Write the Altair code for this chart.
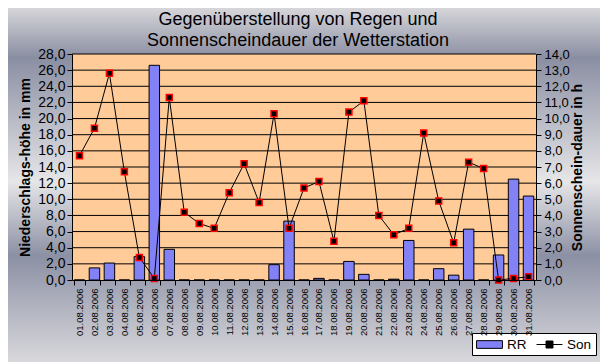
import altair as alt
import pandas as pd

# ---- data ----
dates = ["01.08.2006", "02.08.2006", "03.08.2006", "04.08.2006", "05.08.2006",
         "06.08.2006", "07.08.2006", "08.08.2006", "09.08.2006", "10.08.2006",
         "11.08.2006", "12.08.2006", "13.08.2006", "14.08.2006", "15.08.2006",
         "16.08.2006", "17.08.2006", "18.08.2006", "19.08.2006", "20.08.2006",
         "21.08.2006", "22.08.2006", "23.08.2006", "24.08.2006", "25.08.2006",
         "26.08.2006", "27.08.2006", "28.08.2006", "29.08.2006", "30.08.2006",
         "31.08.2006"]
rr = [0.0, 1.5, 2.1, 0.0, 2.9, 26.6, 3.8, 0.0, 0.0, 0.0, 0.0, 0.0, 0.0, 1.9, 7.3,
      0.0, 0.2, 0.0, 2.3, 0.7, 0.0, 0.1, 4.9, 0.0, 1.4, 0.6, 6.3, 0.0, 3.1, 12.5, 10.4]
son = [7.7, 9.4, 12.8, 6.7, 1.4, 0.1, 11.3, 4.2, 3.5, 3.2, 5.4, 7.2, 4.8, 10.3, 3.2,
       5.7, 6.1, 2.4, 10.4, 11.1, 4.0, 2.8, 3.2, 9.1, 4.9, 2.3, 7.3, 6.9, 0.0, 0.1, 0.2]
left_ticks = [0, 2, 4, 6, 8, 10, 12, 14, 16, 18, 20, 22, 24, 26, 28]
right_ticks = [0, 1, 2, 3, 4, 5, 6, 7, 8, 9, 10, 11, 12, 13, 14]
grid_values = [2, 4, 6, 8, 10, 12, 14, 16, 18, 20, 22, 24, 26, 28]
series_names = ["RR", "Son"]
title_lines = ["Gegenüberstellung von Regen und", "Sonnenscheindauer der Wetterstation"]
left_title = "Niederschlags-höhe in mm"
right_title = "Sonnenschein-dauer in h"

# ---- styling ----
W, H = 464, 226
FONT = "Liberation Sans"
BAR = "#8282f6"
PEACH = "#ffcc99"

df = pd.DataFrame({"date": dates, "rr": rr, "son": son})
df["series"] = series_names[0]
grid_df = pd.DataFrame({"g": grid_values})
one = pd.DataFrame({"k": [0]})

fmt = "replace(format(datum.value, '.1f'), '.', ',')"

left_scale = alt.Scale(domain=[0, 28], nice=False, zero=True)
right_scale = alt.Scale(domain=[0, 14], nice=False, zero=True)

left_axis = alt.Axis(values=left_ticks, labelExpr=fmt, title=left_title, orient="left",
                     titleAngle=270, titleFontWeight="bold", titleFontSize=14,
                     titleFont=FONT, labelFont=FONT, labelFontSize=14, labelColor="black",
                     titleColor="black", tickSize=5, tickColor="black", domainColor="black",
                     labelPadding=2, titlePadding=5, grid=False, zindex=1)
right_axis = alt.Axis(values=right_ticks, labelExpr=fmt, title=right_title, orient="right",
                      titleAngle=270, titleBaseline="top", titleFontWeight="bold",
                      titleFontSize=14, titleFont=FONT, labelFont=FONT, labelFontSize=13,
                      labelColor="black", titleColor="black", tickSize=5, tickColor="black",
                      domainColor="black", labelPadding=3, titlePadding=1, grid=False,
                      zindex=1)
x_axis = alt.Axis(title=None, labelAngle=270, labelFont=FONT, labelFontSize=9.5,
                  labelColor="black", tickBand="extent", tickSize=5, tickColor="black",
                  domainColor="black", labelPadding=3, grid=False, zindex=1)
x_scale = alt.Scale(type="band", paddingInner=0.3, paddingOuter=0.15)
x_enc = alt.X("date:N", sort=dates, scale=x_scale, axis=x_axis)

gradient = alt.LinearGradient(
    gradient="linear", x1=0, y1=0, x2=0, y2=1,
    stops=[alt.GradientStop(offset=0.0, color="#d6d6da"),
           alt.GradientStop(offset=0.14, color="#8a8ea2"),
           alt.GradientStop(offset=0.49, color="#e6e6e8"),
           alt.GradientStop(offset=0.70, color="#8c90a4"),
           alt.GradientStop(offset=1.0, color="#d8d8dc")])

bg = alt.Chart(one).mark_rect(color=gradient).encode(
    x=alt.value(-64), x2=alt.value(528), y=alt.value(-46), y2=alt.value(308))
plot_bg = alt.Chart(one).mark_rect(color=PEACH).encode(
    x=alt.value(0), x2=alt.value(W), y=alt.value(0), y2=alt.value(H))

grid = alt.Chart(grid_df).mark_rule(color="black", strokeWidth=1).encode(
    y=alt.Y("g:Q", scale=left_scale, axis=left_axis))

# legend symbols: wide swatch for RR, line with square marker for Son
sym_shape = ("datum.value === 'RR' ? 'M-1.85,-0.55H1.85V0.55H-1.85Z' : "
             "'M-1.85,0H-0.5M0.5,0H1.85M-0.5,-0.5H0.5V0.5H-0.5Z'")
legend = alt.Legend(title=None, orient="none", legendX=400, legendY=279,
                    direction="horizontal", strokeColor="black", fillColor="white",
                    padding=4, labelFont=FONT, labelFontSize=13.5, labelColor="black",
                    symbolSize=196, symbolOffset=6, labelOffset=10, columnPadding=7,
                    symbolType=alt.ExprRef(sym_shape),
                    symbolStrokeColor="black", symbolStrokeWidth=1)

bars = alt.Chart(df).mark_bar(stroke="black", strokeWidth=1).encode(
    x=x_enc,
    y=alt.Y("rr:Q", scale=left_scale, axis=left_axis),
    fill=alt.Fill("series:N", scale=alt.Scale(domain=series_names, range=[BAR, "black"]),
                  legend=legend))

line = alt.Chart(df).mark_line(color="black", strokeWidth=1).encode(
    x=x_enc, y=alt.Y("son:Q", scale=right_scale, axis=right_axis))
points = alt.Chart(df).mark_point(shape="square", filled=True, fill="black", stroke="#ff0000",
                                  strokeWidth=1.5, size=36, opacity=1).encode(
    x=x_enc, y=alt.Y("son:Q", scale=right_scale, axis=right_axis))

left = alt.layer(grid, bars)
right = alt.layer(line, points)

chart = alt.layer(bg, plot_bg, left, right).resolve_scale(y="independent").properties(
    width=W, height=H,
    title=alt.Title(title_lines, fontSize=18, fontWeight="normal", font=FONT, color="black",
                    anchor="middle", frame="group", offset=0, dy=42, lineHeight=21, dx=-6),
    padding={"left": 64, "top": 46, "right": 64, "bottom": 82},
    autosize=alt.AutoSizeParams(type="none"),
).configure(font=FONT).configure_view(stroke=None)

chart.save("out.html", embed_options={"renderer": "svg", "actions": False})
